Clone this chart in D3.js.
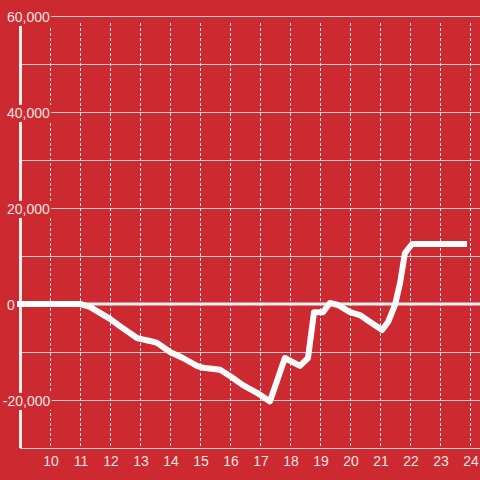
<!DOCTYPE html>
<html lang="en">
<head>
    <meta charset="UTF-8">
    <title>Chart</title>
    <script src="https://cdn.jsdelivr.net/npm/d3@7/dist/d3.min.js"></script>
    <style>
        body { margin: 0; background: #cc2a30; }
        svg { display: block; font-family: "Liberation Sans", Arial, sans-serif; }
    </style>
</head>
<body>
<script>
    // data (hour, value)
    var hours = [8.9, 11.0, 11.33, 12.0, 12.33, 12.9, 13.33, 13.57, 14.0, 14.43, 14.9, 15.1, 15.67, 16.0, 16.43, 16.9, 17.33,
                 17.83, 18.33, 18.6, 18.8, 19.1, 19.33, 19.6, 20.0, 20.33, 20.67, 21.07, 21.27, 21.5, 21.67, 21.83, 22.07, 23.9];
    var values = [0, 0, -600, -3100, -4600, -7100, -7700, -8100, -10000, -11250, -12900, -13300, -13700, -15000, -16900, -18500, -20300,
                  -11250, -12900, -11250, -1700, -1700, 200, -200, -1700, -2300, -3750, -5400, -3750, -200, 4400, 10600, 12500, 12500];
    var xTicks = [10, 11, 12, 13, 14, 15, 16, 17, 18, 19, 20, 21, 22, 23, 24];
    var yGrid = [-30000, -20000, -10000, 0, 10000, 20000, 30000, 40000, 50000, 60000];
    var yLabels = [-20000, 0, 20000, 40000, 60000];

    var width = 480;
    var height = 480;
    var bg = "#cc2a30";
    var textColor = "#f4e4e4";

    var svg = d3.select("body")
        .append("svg")
        .attr("width", width)
        .attr("height", height);

    svg.append("rect")
        .attr("width", width)
        .attr("height", height)
        .attr("fill", bg);

    var x = d3.scaleLinear().domain([9, 24]).range([20, 470]);
    var y = d3.scaleLinear().domain([-30000, 60000]).range([448, 16]);

    // horizontal grid
    svg.selectAll(".hgrid")
        .data(yGrid)
        .enter()
        .append("line")
        .attr("x1", x(9))
        .attr("x2", width)
        .attr("y1", function (d) { return y(d) + 0.5; })
        .attr("y2", function (d) { return y(d) + 0.5; })
        .attr("stroke", "#cfcfcf")
        .attr("stroke-width", 1);

    // vertical dashed grid
    svg.selectAll(".vgrid")
        .data(xTicks)
        .enter()
        .append("line")
        .attr("x1", function (d) { return Math.round(x(d)) + 0.5; })
        .attr("x2", function (d) { return Math.round(x(d)) + 0.5; })
        .attr("y1", 23)
        .attr("y2", y(-30000))
        .attr("stroke", "#f0e8e8")
        .attr("stroke-width", 1)
        .attr("stroke-dasharray", "3,2");

    // zero line
    svg.append("line")
        .attr("x1", x(9))
        .attr("x2", width)
        .attr("y1", y(0))
        .attr("y2", y(0))
        .attr("stroke", "#f2f2f2")
        .attr("stroke-width", 3);

    // y axis line
    svg.append("line")
        .attr("x1", x(9) + 0.5)
        .attr("x2", x(9) + 0.5)
        .attr("y1", y(60000))
        .attr("y2", y(-30000))
        .attr("stroke", "#eeeeee")
        .attr("stroke-width", 3);

    // y labels with background boxes
    var fmt = d3.format(",");
    var labels = svg.selectAll(".ylab")
        .data(yLabels)
        .enter()
        .append("g");

    labels.append("text")
        .attr("x", 7)
        .attr("dx", function (d) { return d < 0 ? "-0.3em" : 0; })
        .attr("y", function (d) { return y(d) + 1; })
        .attr("dy", "0.35em")
        .attr("fill", textColor)
        .style("font-size", "14px")
        .text(function (d) { return fmt(d).replace("\u2212", "-"); });

    labels.each(function () {
        var g = d3.select(this);
        var b = g.select("text").node().getBBox();
        g.insert("rect", "text")
            .attr("x", b.x - 1)
            .attr("y", b.y)
            .attr("width", b.width + 2)
            .attr("height", b.height + 1)
            .attr("fill", bg);
    });

    // x labels
    svg.selectAll(".xlab")
        .data(xTicks)
        .enter()
        .append("text")
        .attr("x", function (d) { return x(d) + 1; })
        .attr("y", 466)
        .attr("text-anchor", "middle")
        .attr("fill", textColor)
        .style("font-size", "14px")
        .text(function (d) { return d; });

    // data line
    var line = d3.line()
        .x(function (d, i) { return x(hours[i]); })
        .y(function (d) { return y(d); });

    svg.append("path")
        .datum(values)
        .attr("d", line)
        .attr("fill", "none")
        .attr("stroke", "#ffffff")
        .attr("stroke-width", 6)
        .attr("stroke-linejoin", "round");
</script>
</body>
</html>
